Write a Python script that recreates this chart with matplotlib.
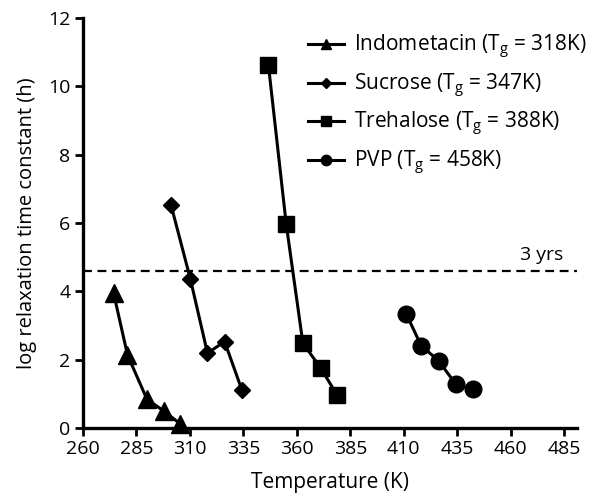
import matplotlib
matplotlib.use("Agg")
import matplotlib.pyplot as plt

plt.rcParams['font.family'] = ['Open Sans', 'DejaVu Sans']
plt.rcParams['mathtext.fontset'] = 'custom'
plt.rcParams['mathtext.rm'] = 'Open Sans'
plt.rcParams['mathtext.it'] = 'Open Sans'

# data
indo_T = [274.3, 280.8, 289.9, 297.7, 305.5]
indo_y = [3.95, 2.14, 0.84, 0.50, 0.12]

sucrose_T = [301.1, 310.2, 318.2, 326.2, 334.3]
sucrose_y = [6.54, 4.36, 2.19, 2.53, 1.11]

treh_T = [346.7, 355.0, 362.8, 371.2, 378.7]
treh_y = [10.62, 5.97, 2.48, 1.75, 0.97]

pvp_T = [411.1, 418.1, 426.2, 434.3, 442.1]
pvp_y = [3.34, 2.41, 1.97, 1.28, 1.13]

three_yrs = 4.6

labels = [r'Indometacin (T$_\mathregular{g}$ = 318K)',
          r'Sucrose (T$_\mathregular{g}$ = 347K)',
          r'Trehalose (T$_\mathregular{g}$ = 388K)',
          r'PVP (T$_\mathregular{g}$ = 458K)']

xticks = [260, 285, 310, 335, 360, 385, 410, 435, 460, 485]
yticks = [0, 2, 4, 6, 8, 10, 12]

fig = plt.figure(figsize=(6.12, 4.98), dpi=100)
ax = fig.add_axes([0.1356, 0.1406, 0.8074, 0.8233])

lw = 2.2
h1, = ax.plot(indo_T, indo_y, color='black', lw=lw, marker='^', ms=12.5, clip_on=False, zorder=3)
h2, = ax.plot(sucrose_T, sucrose_y, color='black', lw=lw, marker='D', ms=8.5, clip_on=False, zorder=3)
h3, = ax.plot(treh_T, treh_y, color='black', lw=lw, marker='s', ms=12, clip_on=False, zorder=3)
h4, = ax.plot(pvp_T, pvp_y, color='black', lw=lw, marker='o', ms=12, clip_on=False, zorder=3)

# 3 years reference line
ax.axhline(three_yrs, color='black', lw=1.6, ls=(0, (4, 2.5)), zorder=2)
ax.text(474.2, three_yrs + 0.2, '3 yrs', ha='center', va='bottom', fontsize=14)

ax.set_xlim(260, 491)
ax.set_ylim(0, 12)
ax.set_xticks(xticks)
ax.set_yticks(yticks)
ax.tick_params(axis='both', direction='out', length=6, width=2, labelsize=14, pad=3)
for s in ['top', 'right']:
    ax.spines[s].set_visible(False)
for s in ['left', 'bottom']:
    ax.spines[s].set_linewidth(2.4)

ax.set_xlabel('Temperature (K)', fontsize=15, labelpad=10)
ax.set_ylabel('log relaxation time constant (h)', fontsize=14.5, labelpad=8)

ax.legend([h1, h2, h3, h4], labels, loc='upper left', bbox_to_anchor=(0.455, 0.963),
          frameon=False, fontsize=15, markerscale=0.62, handlelength=1.75,
          handletextpad=0.45, labelspacing=0.5, borderaxespad=0, borderpad=0)

fig.savefig('out.png', dpi=100)
